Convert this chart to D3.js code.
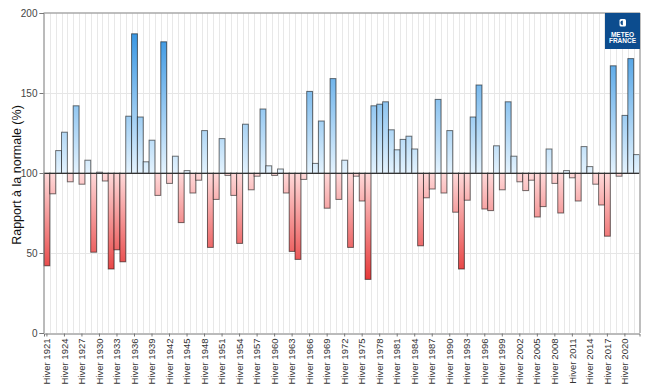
<!DOCTYPE html>
<html>
<head>
<meta charset="utf-8">
<script src="https://cdn.jsdelivr.net/npm/d3@7"></script>
<style>
  body { margin: 0; background: #fff; }
  svg { display: block; font-family: "Liberation Sans", Arial, sans-serif; }
</style>
</head>
<body>
<svg width="650" height="386"></svg>
<script>
(function (d3) {
  "use strict";

  // winters, one bar each
  const years = [
    1921, 1922, 1923, 1924, 1925, 1926, 1927, 1928, 1929, 1930,
    1931, 1932, 1933, 1934, 1935, 1936, 1937, 1938, 1939, 1940,
    1941, 1942, 1943, 1944, 1945, 1946, 1947, 1948, 1949, 1950,
    1951, 1952, 1953, 1954, 1955, 1956, 1957, 1958, 1959, 1960,
    1961, 1962, 1963, 1964, 1965, 1966, 1967, 1968, 1969, 1970,
    1971, 1972, 1973, 1974, 1975, 1976, 1977, 1978, 1979, 1980,
    1981, 1982, 1983, 1984, 1985, 1986, 1987, 1988, 1989, 1990,
    1991, 1992, 1993, 1994, 1995, 1996, 1997, 1998, 1999, 2000,
    2001, 2002, 2003, 2004, 2005, 2006, 2007, 2008, 2009, 2010,
    2011, 2012, 2013, 2014, 2015, 2016, 2017, 2018, 2019, 2020,
    2021, 2022
  ];

  // rapport a la normale (%)
  const ratios = [
    42, 87, 114, 125.5, 94.5, 142, 93, 108, 50.5, 100.5,
    95, 40, 52, 44.5, 135.5, 187, 135, 107, 120.5, 86,
    182, 93.5, 110.5, 69, 101.5, 87.5, 95.5, 126.5, 53.5, 83.5,
    121.5, 98.5, 86, 56, 130.5, 89.5, 98, 140, 104.5, 98.5,
    102.5, 87.5, 51, 46, 96, 151, 106, 132.5, 78, 159,
    83.5, 108, 53.5, 98, 82.5, 33.5, 142, 143, 144.5, 127,
    114.5, 121, 123, 115, 54.5, 84.5, 90, 146, 87.5, 126.5,
    75.5, 40, 83, 135, 155, 77.5, 76.5, 117, 89.5, 144.5,
    110.5, 94.5, 89, 95.5, 72.5, 79, 115, 93.5, 75, 101.5,
    97, 82.5, 116.5, 104, 93, 80, 60.5, 167, 98, 136,
    171.5, 111.5
  ];

  const labelledYears = [
    1921, 1924, 1927, 1930, 1933, 1936, 1939, 1942, 1945, 1948,
    1951, 1954, 1957, 1960, 1963, 1966, 1969, 1972, 1975, 1978,
    1981, 1984, 1987, 1990, 1993, 1996, 1999, 2002, 2005, 2008,
    2011, 2014, 2017, 2020
  ];
  const yTicks = [0, 50, 100, 150, 200];
  const normal = 100;
  const yAxisLabel = "Rapport à la normale (%)";

  const data = years.map((y, i) => ({ year: y, value: ratios[i] }));

  const svg = d3.select("svg");
  const width = +svg.attr("width");
  const height = +svg.attr("height");

  const margin = { top: 13, right: 10.5, bottom: 53, left: 44 };
  const innerWidth = width - margin.left - margin.right;
  const innerHeight = height - margin.top - margin.bottom;

  const xScale = d3.scaleBand()
    .domain(years)
    .range([0, innerWidth])
    .padding(0);

  const yScale = d3.scaleLinear()
    .domain([0, 200])
    .range([innerHeight, 0]);

  const g = svg.append("g")
    .attr("transform", `translate(${margin.left}, ${margin.top})`);

  // gradients follow the value axis, so short bars stay pale
  const defs = svg.append("defs");
  const blue = defs.append("linearGradient")
    .attr("id", "gradBlue")
    .attr("gradientUnits", "userSpaceOnUse")
    .attr("x1", 0).attr("x2", 0)
    .attr("y1", yScale(normal)).attr("y2", yScale(195));
  blue.append("stop").attr("offset", 0).attr("stop-color", "#e4f3fe");
  blue.append("stop").attr("offset", 1).attr("stop-color", "#2b8fe0");

  const red = defs.append("linearGradient")
    .attr("id", "gradRed")
    .attr("gradientUnits", "userSpaceOnUse")
    .attr("x1", 0).attr("x2", 0)
    .attr("y1", yScale(normal)).attr("y2", yScale(28));
  red.append("stop").attr("offset", 0).attr("stop-color", "#ffdada");
  red.append("stop").attr("offset", 1).attr("stop-color", "#e42c2c");

  // vertical grid at category edges
  g.append("g")
    .selectAll("line")
    .data(years.slice(1))
    .enter()
    .append("line")
    .attr("x1", (d) => Math.round(xScale(d)) + 0.5)
    .attr("x2", (d) => Math.round(xScale(d)) + 0.5)
    .attr("y1", 0)
    .attr("y2", innerHeight)
    .attr("stroke", "#e8e8e8");

  // horizontal grid
  g.append("g")
    .selectAll("line")
    .data(yTicks.filter((t) => t !== 0 && t !== 200 && t !== normal))
    .enter()
    .append("line")
    .attr("x1", 0)
    .attr("x2", innerWidth)
    .attr("y1", (d) => Math.round(yScale(d)) + 0.5)
    .attr("y2", (d) => Math.round(yScale(d)) + 0.5)
    .attr("stroke", "#e6e6e6");

  // bars from the 100 % line
  g.append("g")
    .selectAll("rect")
    .data(data)
    .enter()
    .append("rect")
    .attr("x", (d) => xScale(d.year))
    .attr("width", xScale.bandwidth())
    .attr("y", (d) => yScale(Math.max(d.value, normal)))
    .attr("height", (d) => Math.abs(yScale(d.value) - yScale(normal)))
    .attr("fill", (d) => (d.value >= normal ? "url(#gradBlue)" : "url(#gradRed)"))
    .attr("stroke", "rgba(0,0,0,0.55)")
    .attr("stroke-width", 1);

  // 100 % reference line
  g.append("line")
    .attr("x1", 0)
    .attr("x2", innerWidth)
    .attr("y1", Math.round(yScale(normal)) + 0.5)
    .attr("y2", Math.round(yScale(normal)) + 0.5)
    .attr("stroke", "#333")
    .attr("stroke-width", 1);

  // plot frame
  g.append("line")
    .attr("x1", -0.5).attr("x2", innerWidth + 0.5)
    .attr("y1", 0).attr("y2", 0)
    .attr("stroke", "#a8a8a8").attr("stroke-width", 1.5);
  g.append("line")
    .attr("x1", innerWidth + 0.5).attr("x2", innerWidth + 0.5)
    .attr("y1", 0).attr("y2", innerHeight)
    .attr("stroke", "#a8a8a8").attr("stroke-width", 1.5);

  // y axis
  const yAxis = d3.axisLeft(yScale)
    .tickValues(yTicks)
    .tickSize(4)
    .tickPadding(2);
  const yAxisG = g.append("g")
    .attr("transform", "translate(-0.5, 0)")
    .call(yAxis);
  yAxisG.select(".domain").attr("stroke", "#777");
  yAxisG.selectAll(".tick line").attr("stroke", "#777");
  yAxisG.selectAll(".tick text")
    .attr("fill", "#444")
    .style("font-size", "10px")
    .style("font-family", "'Liberation Sans', Arial, sans-serif");

  svg.append("text")
    .attr("transform", `translate(21, ${margin.top + innerHeight / 2 + 2}) rotate(-90)`)
    .attr("text-anchor", "middle")
    .attr("fill", "#111")
    .style("font-size", "12.5px")
    .text(yAxisLabel);

  // x axis
  const xAxis = d3.axisBottom(xScale)
    .tickValues(labelledYears)
    .tickSize(3)
    .tickFormat((d) => `Hiver ${d}`);
  const xAxisG = g.append("g")
    .attr("transform", `translate(0, ${innerHeight + 0.5})`)
    .call(xAxis);
  xAxisG.select(".domain").attr("stroke", "#777");
  xAxisG.selectAll(".tick line").attr("stroke", "#777");
  xAxisG.selectAll(".tick text")
    .attr("fill", "#333")
    .attr("text-anchor", "end")
    .attr("transform", "rotate(-90)")
    .attr("x", -5)
    .attr("y", 0)
    .attr("dy", "0.33em")
    .style("font-size", "9.5px")
    .style("font-family", "'Liberation Sans', Arial, sans-serif");

  // Meteo-France logo block
  const logo = svg.append("g")
    .attr("transform", `translate(${margin.left + innerWidth - 34.5}, ${margin.top})`);
  logo.append("rect")
    .attr("width", 35).attr("height", 36)
    .attr("fill", "#0c4c8e");
  logo.append("rect")
    .attr("x", 14.5).attr("y", 6).attr("width", 6.5).attr("height", 7.5)
    .attr("rx", 1.5)
    .attr("fill", "#fff");
  logo.append("path")
    .attr("d", "M17.8,7.4 a2.4,2.4 0 1,0 0,4.8 z")
    .attr("fill", "#0c4c8e");
  logo.append("text")
    .attr("x", 17.5).attr("y", 23.5)
    .attr("text-anchor", "middle")
    .attr("fill", "#fff")
    .style("font-size", "6.5px")
    .style("font-weight", "bold")
    .text("METEO");
  logo.append("text")
    .attr("x", 17.5).attr("y", 29.5)
    .attr("text-anchor", "middle")
    .attr("fill", "#fff")
    .style("font-size", "6.5px")
    .style("font-weight", "bold")
    .text("FRANCE");
})(d3);
</script>
</body>
</html>
